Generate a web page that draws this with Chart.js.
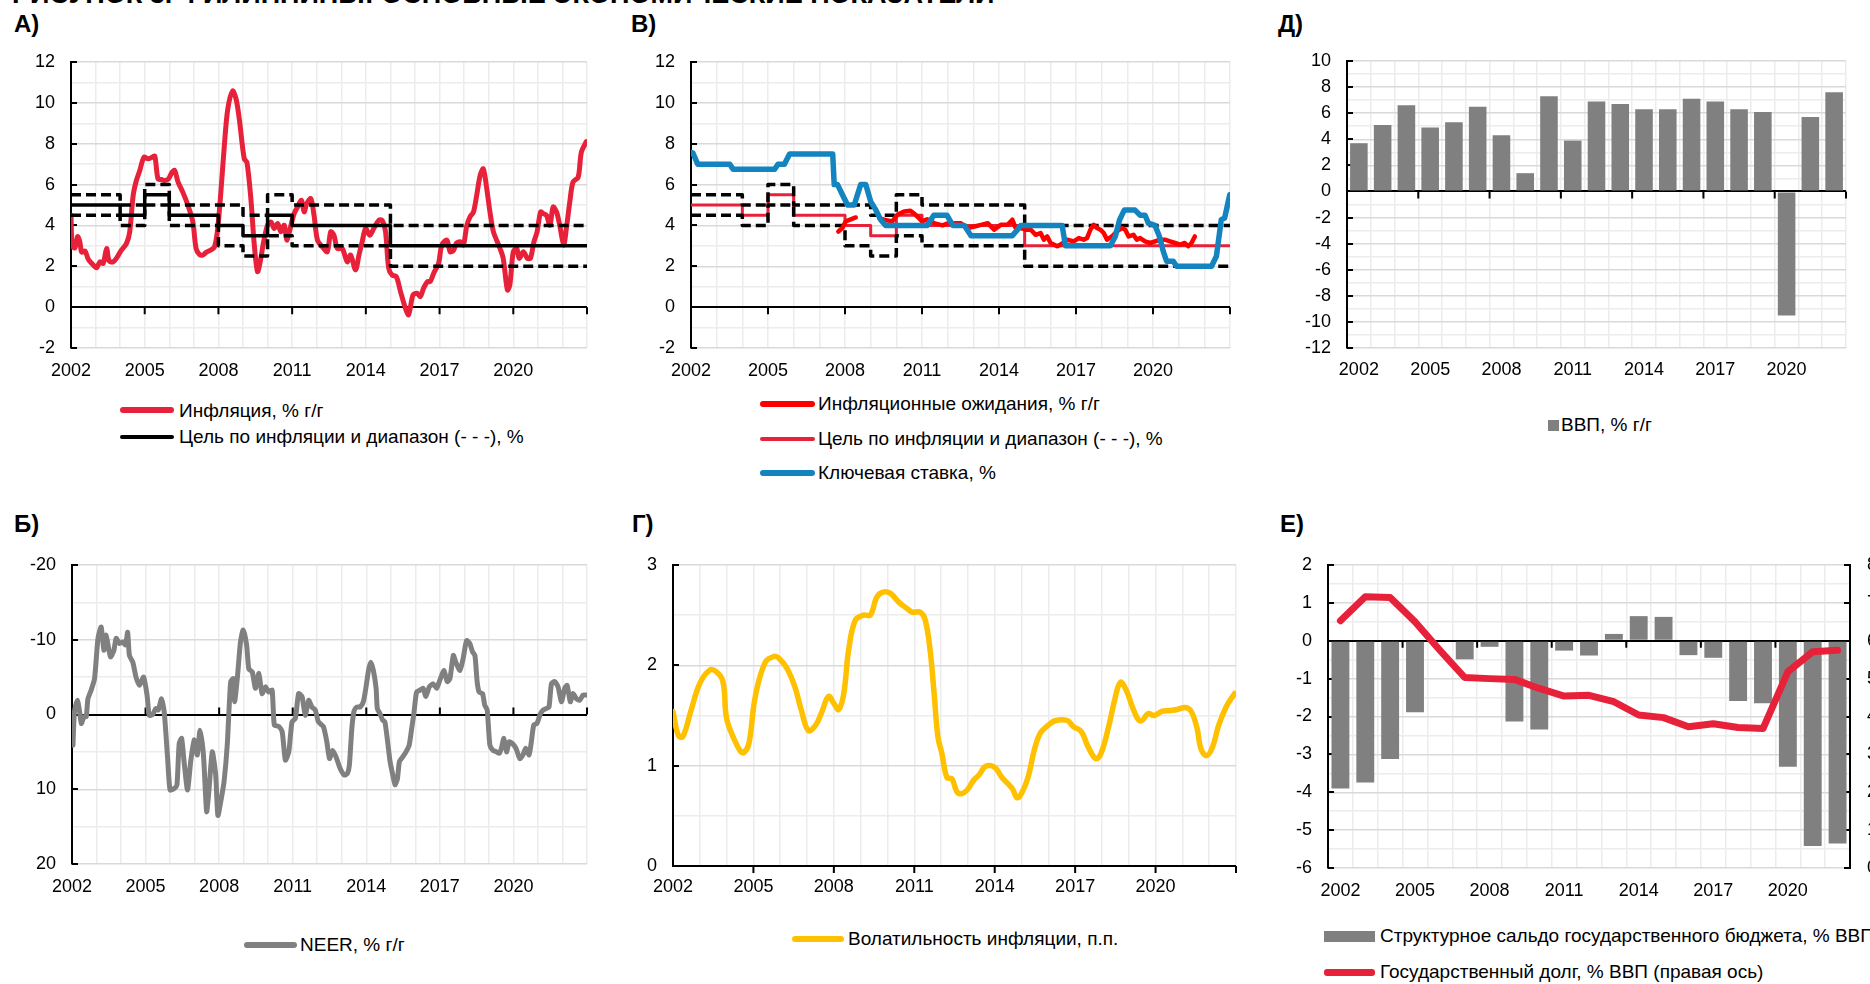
<!DOCTYPE html>
<html lang="ru">
<head>
<meta charset="utf-8">
<title>Филиппины: основные экономические показатели</title>
<script src="https://cdn.jsdelivr.net/npm/chart.js@4.4.1/dist/chart.umd.min.js"></script>
<style>
  html, body { margin: 0; padding: 0; background: #fff; }
  body { position: relative; width: 1870px; height: 984px; overflow: hidden;
         font-family: "Liberation Sans", Arial, sans-serif; color: #000; }
  .hdr { position: absolute; left: 12px; top: -19px; font-size: 27px; line-height: 27px;
         font-weight: bold; white-space: nowrap; }
  .ttl { position: absolute; font-size: 24px; line-height: 24px; font-weight: bold; }
  .sw  { position: absolute; border-radius: 3px; }
  .lt  { position: absolute; font-size: 19px; line-height: 20px; white-space: nowrap; }
</style>
</head>
<body>

<div class="hdr">РИСУНОК 3. ФИЛИППИНЫ: ОСНОВНЫЕ ЭКОНОМИЧЕСКИЕ ПОКАЗАТЕЛИ</div>

<div class="ttl" style="left:14px;top:12px">А)</div>
<div class="ttl" style="left:631px;top:12px">В)</div>
<div class="ttl" style="left:1278px;top:12px">Д)</div>
<div class="ttl" style="left:14px;top:512px">Б)</div>
<div class="ttl" style="left:632px;top:512px">Г)</div>
<div class="ttl" style="left:1280px;top:512px">Е)</div>

<!-- легенды -->
<div class="sw" style="left:120px;top:407px;width:54px;height:6px;background:#e8213a"></div>
<div class="lt" style="left:179px;top:401px">Инфляция, % г/г</div>
<div class="sw" style="left:120px;top:435px;width:54px;height:4px;background:#000"></div>
<div class="lt" style="left:179px;top:427px">Цель по инфляции и диапазон (- - -), %</div>

<div class="sw" style="left:760px;top:401px;width:55px;height:6px;background:#ff0000"></div>
<div class="lt" style="left:818px;top:394px">Инфляционные ожидания, % г/г</div>
<div class="sw" style="left:760px;top:437px;width:55px;height:4px;background:#e8213a"></div>
<div class="lt" style="left:818px;top:429px">Цель по инфляции и диапазон (- - -), %</div>
<div class="sw" style="left:760px;top:470px;width:55px;height:6px;background:#1384c0"></div>
<div class="lt" style="left:818px;top:463px">Ключевая ставка, %</div>

<div class="sw" style="left:1548px;top:420px;width:11px;height:11px;background:#808080;border-radius:0"></div>
<div class="lt" style="left:1561px;top:415px">ВВП, % г/г</div>

<div class="sw" style="left:244px;top:942px;width:53px;height:6px;background:#808080"></div>
<div class="lt" style="left:300px;top:935px">NEER, % г/г</div>

<div class="sw" style="left:792px;top:936px;width:52px;height:6px;background:#ffc000"></div>
<div class="lt" style="left:848px;top:929px">Волатильность инфляции, п.п.</div>

<div class="sw" style="left:1324px;top:931px;width:51px;height:11px;background:#808080;border-radius:0"></div>
<div class="lt" style="left:1380px;top:926px">Структурное сальдо государственного бюджета, % ВВП</div>
<div class="sw" style="left:1324px;top:969px;width:51px;height:7px;background:#e8213a"></div>
<div class="lt" style="left:1380px;top:962px">Государственный долг, % ВВП (правая ось)</div>

<script>
// ---------- данные ----------

// А) инфляция, % г/г (помесячно, снято с графика)
const inflYears = [
  2002.0, 2002.05, 2002.16, 2002.27, 2002.36, 2002.43, 2002.57, 2002.7, 2002.84, 2003.04,
  2003.18, 2003.31, 2003.45, 2003.55, 2003.72, 2003.89, 2004.05, 2004.26, 2004.39, 2004.53,
  2004.66, 2004.8, 2004.97, 2005.14, 2005.3, 2005.41, 2005.54, 2005.68, 2005.81, 2005.97,
  2006.11, 2006.22, 2006.35, 2006.55, 2006.76, 2006.96, 2007.09, 2007.23, 2007.36, 2007.5,
  2007.68, 2007.84, 2007.97, 2008.11, 2008.24, 2008.38, 2008.58, 2008.72, 2008.85, 2009.05,
  2009.16, 2009.32, 2009.46, 2009.59, 2009.7, 2009.84, 2010.0, 2010.14, 2010.27, 2010.41,
  2010.54, 2010.68, 2010.78, 2010.92, 2011.08, 2011.22, 2011.38, 2011.49, 2011.59, 2011.76,
  2011.89, 2012.03, 2012.23, 2012.43, 2012.57, 2012.7, 2012.84, 2013.04, 2013.24, 2013.38,
  2013.58, 2013.72, 2013.85, 2013.99, 2014.16, 2014.32, 2014.53, 2014.66, 2014.8, 2014.93,
  2015.07, 2015.24, 2015.41, 2015.61, 2015.74, 2015.92, 2016.08, 2016.22, 2016.35, 2016.51,
  2016.62, 2016.76, 2016.96, 2017.09, 2017.3, 2017.43, 2017.57, 2017.68, 2017.84, 2017.97,
  2018.11, 2018.24, 2018.38, 2018.51, 2018.65, 2018.78, 2018.92, 2019.05, 2019.19, 2019.32,
  2019.46, 2019.59, 2019.76, 2019.86, 2020.0, 2020.14, 2020.24, 2020.41, 2020.57, 2020.7,
  2020.84, 2020.97, 2021.11, 2021.22, 2021.35, 2021.49, 2021.62, 2021.76, 2021.89, 2022.05,
  2022.16, 2022.3, 2022.43, 2022.64, 2022.77, 2022.97
];
const inflValues = [
  4.5, 3.0, 2.9, 3.45, 3.2, 2.7, 2.75, 2.35, 2.15, 1.93,
  2.22, 2.14, 2.87, 2.26, 2.22, 2.47, 2.79, 3.12, 3.68, 5.47,
  6.2, 6.69, 7.34, 7.26, 7.34, 7.39, 6.28, 6.25, 6.2, 6.28,
  6.6, 6.69, 6.15, 5.63, 4.98, 4.17, 2.87, 2.58, 2.55, 2.68,
  2.79, 2.95, 3.85, 5.8, 7.9, 9.69, 10.58, 10.18, 9.2, 7.26,
  7.09, 5.31, 3.04, 1.74, 2.22, 3.2, 4.01, 4.17, 3.85, 4.09,
  3.69, 4.01, 3.28, 3.85, 4.58, 4.9, 5.23, 4.66, 5.06, 5.31,
  4.5, 3.28, 2.95, 2.71, 3.69, 3.52, 2.87, 2.87, 2.22, 2.55,
  1.82, 2.55, 3.2, 3.85, 3.52, 3.85, 4.25, 4.25, 3.69, 1.9,
  1.57, 1.49, 0.76, -0.05, -0.37, 0.6, 0.68, 0.52, 0.93, 1.25,
  1.25, 1.66, 2.14, 3.04, 3.28, 2.71, 2.79, 3.12, 3.2, 3.04,
  4.01, 4.42, 4.66, 5.47, 6.44, 6.77, 5.8, 4.66, 3.69, 3.28,
  2.87, 2.39, 0.84, 1.09, 2.71, 2.87, 2.39, 2.71, 2.39, 2.39,
  3.2, 3.69, 4.66, 4.58, 4.5, 4.01, 4.9, 4.66, 4.01, 3.04,
  3.85, 5.15, 6.12, 6.36, 7.58, 8.1
];

// цель по инфляции и диапазон (ступеньки, значение действует до следующей даты)
const targetYears  = [2002, 2004, 2005, 2006, 2008, 2009, 2010, 2011, 2015, 2023];
const targetValues = [5, 4.5, 5.5, 4.5, 4, 3.5, 4.5, 4, 3, 3];
const bandUpper    = [5.5, 5, 6, 5, 5, 4.5, 5.5, 5, 4, 4];
const bandLower    = [4.5, 4, 5, 4, 3, 2.5, 3.5, 3, 2, 2];

// В) ключевая ставка, %
const rateYears = [
  2002.0, 2002.08, 2002.26, 2003.51, 2003.64, 2005.26, 2005.39, 2005.64, 2005.84, 2007.52,
  2007.58, 2007.71, 2007.9, 2008.1, 2008.36, 2008.61, 2008.81, 2009.0, 2009.2, 2009.39,
  2009.58, 2011.2, 2011.46, 2011.97, 2012.2, 2012.65, 2012.91, 2014.52, 2014.72, 2014.85,
  2016.46, 2016.59, 2018.34, 2018.53, 2018.7, 2018.88, 2019.3, 2019.5, 2019.69, 2019.82,
  2020.08, 2020.25, 2020.4, 2020.53, 2020.79, 2020.92, 2022.28, 2022.47, 2022.66, 2022.79,
  2022.99
];
const rateValues = [
  7.58, 7.53, 7.0, 7.0, 6.75, 6.75, 7.0, 7.0, 7.5, 7.5,
  6.0, 6.0, 5.5, 5.0, 5.0, 6.0, 6.0, 5.17, 4.76, 4.28,
  4.0, 4.0, 4.5, 4.5, 4.0, 4.0, 3.5, 3.5, 3.79, 4.0,
  4.0, 3.0, 3.0, 3.46, 4.28, 4.75, 4.75, 4.5, 4.5, 4.11,
  4.0, 3.46, 2.73, 2.25, 2.25, 2.0, 2.0, 2.49, 4.28, 4.36,
  5.5
];

// В) инфляционные ожидания, % г/г (null = разрыв ряда)
const expYears = [
  2007.74, 2007.9, 2008.03, 2008.2, 2008.42, 2008.8, 2009.33, 2009.52, 2009.84, 2010.04,
  2010.3, 2010.55, 2010.75, 2010.88, 2011.0, 2011.2, 2011.5, 2011.8, 2012.0, 2012.26,
  2012.5, 2012.78, 2013.04, 2013.3, 2013.56, 2013.81, 2014.07, 2014.33, 2014.52, 2014.65,
  2014.85, 2015.04, 2015.24, 2015.43, 2015.62, 2015.75, 2015.88, 2016.01, 2016.27, 2016.4,
  2016.66, 2016.91, 2017.11, 2017.3, 2017.43, 2017.56, 2017.69, 2017.82, 2017.95, 2018.08,
  2018.21, 2018.4, 2018.59, 2018.79, 2018.92, 2019.05, 2019.24, 2019.37, 2019.5, 2019.69,
  2019.89, 2020.08, 2020.27, 2020.47, 2020.66, 2020.86, 2021.05, 2021.24, 2021.37, 2021.5,
  2021.63
];
const expValues = [
  3.7, 3.87, 4.2, 4.28, 4.39, null, 4.36, 4.28, 4.2, 4.52,
  4.68, 4.72, 4.52, 4.36, 4.2, 4.3, 4.1, 4.0, 4.1, 4.11,
  4.11, 3.87, 3.95, 4.03, 4.11, 3.79, 4.03, 4.03, 4.28, 3.87,
  3.87, 3.79, 3.79, 3.54, 3.63, 3.3, 3.46, 3.14, 2.98, 3.06,
  3.3, 3.22, 3.38, 3.3, 3.38, 3.79, 4.03, 3.87, 3.79, 3.63,
  3.3, 3.46, 3.71, 3.87, 3.79, 3.46, 3.54, 3.3, 3.38, 3.22,
  3.14, 3.22, 3.3, 3.3, 3.22, 3.14, 3.06, 3.14, 2.98, 3.14,
  3.46
];

// Б) NEER, % г/г (ось перевёрнута)
const neerYears = [
  2002.04, 2002.1, 2002.22, 2002.31, 2002.38, 2002.49, 2002.58, 2002.65, 2002.78, 2002.92,
  2003.06, 2003.19, 2003.3, 2003.39, 2003.57, 2003.71, 2003.8, 2003.94, 2004.07, 2004.18,
  2004.27, 2004.34, 2004.48, 2004.61, 2004.75, 2004.92, 2005.06, 2005.15, 2005.29, 2005.42,
  2005.52, 2005.65, 2005.76, 2005.9, 2006.0, 2006.17, 2006.28, 2006.37, 2006.47, 2006.57,
  2006.71, 2006.84, 2006.98, 2007.11, 2007.22, 2007.36, 2007.49, 2007.59, 2007.72, 2007.86,
  2007.95, 2008.09, 2008.2, 2008.33, 2008.47, 2008.58, 2008.63, 2008.74, 2008.87, 2008.98,
  2009.12, 2009.21, 2009.35, 2009.48, 2009.62, 2009.75, 2009.89, 2010.02, 2010.16, 2010.25,
  2010.43, 2010.57, 2010.7, 2010.84, 2010.97, 2011.11, 2011.24, 2011.38, 2011.51, 2011.65,
  2011.78, 2011.92, 2012.05, 2012.25, 2012.39, 2012.5, 2012.63, 2012.77, 2012.93, 2013.1,
  2013.23, 2013.31, 2013.41, 2013.5, 2013.61, 2013.75, 2013.88, 2013.99, 2014.09, 2014.18,
  2014.29, 2014.4, 2014.45, 2014.56, 2014.67, 2014.76, 2014.87, 2014.97, 2015.08, 2015.17,
  2015.27, 2015.35, 2015.48, 2015.62, 2015.75, 2015.85, 2015.94, 2016.05, 2016.19, 2016.32,
  2016.43, 2016.57, 2016.73, 2016.87, 2017.0, 2017.17, 2017.3, 2017.41, 2017.55, 2017.65,
  2017.82, 2017.95, 2018.09, 2018.22, 2018.33, 2018.43, 2018.52, 2018.6, 2018.74, 2018.83,
  2018.93, 2019.04, 2019.17, 2019.31, 2019.42, 2019.51, 2019.61, 2019.72, 2019.83, 2019.96,
  2020.1, 2020.26, 2020.39, 2020.5, 2020.64, 2020.73, 2020.83, 2020.96, 2021.1, 2021.21,
  2021.34, 2021.45, 2021.55, 2021.68, 2021.82, 2021.96, 2022.09, 2022.19, 2022.32, 2022.43,
  2022.57, 2022.7, 2022.84, 2022.97
];
const neerValues = [
  4.1, -0.36, -1.9, -0.36, 1.2, 0.3, 0.3, -2.1, -3.25, -4.8,
  -10.2, -11.7, -8.6, -10.6, -7.7, -8.6, -10.2, -9.5, -9.7, -9.3,
  -11.0, -7.9, -7.0, -5.0, -3.9, -5.0, -2.6, 0.1, 0, -0.8,
  -0.6, -2.1, -0.36, 5.9, 10.1, 9.9, 9.4, 3.9, 3.2, 6.3,
  10.1, 6.3, 3.4, 5.4, 2.1, 5.4, 13.0, 9.9, 5.0, 8.1,
  13.5, 11.2, 9.0, 4.1, -4.4, -4.8, -1.7, -4.8, -9.7, -11.3,
  -9.3, -6.1, -5.7, -3.5, -5.5, -2.8, -3.7, -3.0, -3.25, 1.4,
  1.6, 2.3, 6.1, 5.0, 1.0, 0.5, -2.8, -2.4, 0.1, -1.9,
  -1.0, -0.6, 1.0, 1.6, 3.65, 5.9, 4.8, 5.7, 7.2, 8.1,
  7.9, 6.8, 1.9, -0.45, -1.0, -1.0, -1.7, -3.7, -5.9, -7.0,
  -5.9, -3.5, -0.8, -0.1, 0.76, 1.0, 3.65, 6.3, 8.1, 9.4,
  8.6, 6.3, 5.7, 5.0, 4.1, 1.9, -0.1, -3.0, -3.25, -3.5,
  -2.4, -3.7, -4.1, -3.5, -4.6, -5.9, -4.4, -4.8, -7.9, -7.0,
  -5.9, -7.5, -9.9, -9.5, -8.4, -7.9, -4.4, -3.0, -2.8, -1.25,
  -0.6, 4.1, 4.8, 5.0, 5.2, 4.5, 3.2, 5.0, 3.65, 3.9,
  4.5, 5.9, 5.4, 4.5, 5.4, 3.65, 1.4, 1.2, -0.1, -0.6,
  -0.8, -1.0, -4.1, -4.4, -3.7, -1.7, -3.5, -3.9, -1.7, -2.8,
  -2.1, -1.9, -2.6, -2.6
];

// Г) волатильность инфляции, п.п.
const volYears = [
  2002.0, 2002.2, 2002.37, 2002.66, 2003.0, 2003.36, 2003.6, 2003.86, 2004.0, 2004.27,
  2004.5, 2004.64, 2004.83, 2005.07, 2005.44, 2005.78, 2005.95, 2006.25, 2006.54, 2006.79,
  2007.05, 2007.31, 2007.53, 2007.8, 2008.0, 2008.18, 2008.37, 2008.55, 2008.8, 2009.1,
  2009.36, 2009.6, 2009.83, 2010.1, 2010.42, 2010.71, 2010.93, 2011.22, 2011.41, 2011.59,
  2011.74, 2011.88, 2012.03, 2012.22, 2012.4, 2012.59, 2012.76, 2012.98, 2013.2, 2013.42,
  2013.64, 2013.86, 2014.05, 2014.25, 2014.49, 2014.66, 2014.84, 2015.03, 2015.25, 2015.47,
  2015.69, 2015.98, 2016.28, 2016.71, 2016.93, 2017.23, 2017.48, 2017.77, 2017.96, 2018.25,
  2018.47, 2018.69, 2018.91, 2019.13, 2019.35, 2019.5, 2019.72, 2019.94, 2020.23, 2020.52,
  2020.81, 2021.11, 2021.33, 2021.55, 2021.69, 2021.91, 2022.13, 2022.35, 2022.64, 2022.95
];
const volValues = [
  1.54, 1.30, 1.29, 1.54, 1.82, 1.95, 1.94, 1.84, 1.47, 1.27,
  1.15, 1.13, 1.22, 1.69, 2.03, 2.09, 2.07, 1.97, 1.79, 1.55,
  1.35, 1.40, 1.52, 1.69, 1.62, 1.56, 1.72, 2.15, 2.45, 2.50,
  2.50, 2.68, 2.73, 2.72, 2.63, 2.57, 2.53, 2.53, 2.45, 2.15,
  1.72, 1.29, 1.12, 0.88, 0.87, 0.74, 0.72, 0.76, 0.85, 0.91,
  0.99, 1.00, 0.97, 0.89, 0.82, 0.77, 0.68, 0.74, 0.89, 1.15,
  1.32, 1.40, 1.45, 1.45, 1.39, 1.34, 1.19, 1.07, 1.12, 1.39,
  1.65, 1.83, 1.75, 1.59, 1.46, 1.45, 1.52, 1.50, 1.54, 1.55,
  1.56, 1.58, 1.54, 1.37, 1.17, 1.10, 1.19, 1.40, 1.59, 1.72
];

// Д) и Е) годовые ряды
const annualYears = ['2002', '2003', '2004', '2005', '2006', '2007', '2008', '2009', '2010', '2011',
  '2012', '2013', '2014', '2015', '2016', '2017', '2018', '2019', '2020', '2021', '2022'];
const gdpValues = [3.7, 5.1, 6.6, 4.9, 5.3, 6.5, 4.3, 1.4, 7.3, 3.9,
  6.9, 6.7, 6.3, 6.3, 7.1, 6.9, 6.3, 6.1, -9.5, 5.7, 7.6];
const balanceValues = [-3.9, -3.74, -3.12, -1.89, 0, -0.49, -0.16, -2.13, -2.34, -0.26,
  -0.39, 0.18, 0.65, 0.63, -0.38, -0.45, -1.59, -1.65, -3.33, -5.42, -5.35];
const debtValues = [65.3, 71.6, 71.4, 65.0, 57.5, 50.3, 50.0, 49.8, 47.4, 45.4,
  45.6, 43.9, 40.4, 39.7, 37.3, 38.1, 37.1, 36.8, 51.8, 57.1, 57.5];

// засечки оси лет
const markYears = [2005, 2008, 2011, 2014, 2017, 2020, 2023];
const markCats = [3, 6, 9, 12, 15, 18, 21];

// ---------- общие настройки ----------
Chart.defaults.font.family = '"Liberation Sans", Arial, sans-serif';
Chart.defaults.font.size = 18;
Chart.defaults.color = '#000';
Chart.defaults.animation = false;
Chart.defaults.responsive = false;
Chart.defaults.maintainAspectRatio = false;
Chart.defaults.devicePixelRatio = 1;
Chart.defaults.plugins.legend.display = false;
Chart.defaults.plugins.tooltip.enabled = false;
Chart.defaults.elements.point.radius = 0;

// засечки как в Excel: внутрь у вертикальных осей и на нулевой линии
const axisMarks = {
  id: 'axisMarks',
  beforeDatasetsDraw(chart, args, o) {
    const { ctx, chartArea: a, scales } = chart;
    const x = scales.x, y = scales.y;
    ctx.save();
    ctx.strokeStyle = '#000';
    ctx.lineWidth = 2;
    ctx.beginPath();
    y.ticks.forEach(t => {
      if (!t.label) return;
      const py = Math.round(y.getPixelForValue(t.value));
      ctx.moveTo(a.left, py); ctx.lineTo(a.left + 6, py);
    });
    if (scales.y2) {
      scales.y2.ticks.forEach(t => {
        const py = Math.round(scales.y2.getPixelForValue(t.value));
        ctx.moveTo(a.right, py); ctx.lineTo(a.right - 6, py);
      });
    }
    const base = y.getPixelForValue(o.base || 0);
    const dir = o.dir || 1;
    (o.marks || []).forEach(v => {
      let px;
      if (o.cat) px = (x.getPixelForValue(v) + x.getPixelForValue(v - 1)) / 2;
      else px = x.getPixelForValue(v);
      ctx.moveTo(px, base); ctx.lineTo(px, base + 7 * dir);
    });
    ctx.stroke();
    ctx.restore();
  }
};
Chart.register(axisMarks);

const PAD_TOP = 15, YW = 70, XH = 40;

function makeCanvas(box, rw) {
  const c = document.createElement('canvas');
  c.width = box.r - box.l + YW + rw;
  c.height = box.b - box.t + PAD_TOP + XH;
  c.style.position = 'absolute';
  c.style.left = (box.l - YW) + 'px';
  c.style.top = (box.t - PAD_TOP) + 'px';
  document.body.appendChild(c);
  return c;
}

const pts = (xs, ys) => xs.map((x, i) => ({ x: x, y: ys[i] }));
const onStep = (v, s) => Math.abs(v / s - Math.round(v / s)) < 1e-6;

// фиксированная ширина вертикальной оси, без добавочного отступа под крайние подписи
function fixWidth(w) {
  return s => { s.width = w; s.paddingTop = 0; s.paddingBottom = 0; };
}

function yearAxis(pad) {
  return {
    type: 'linear', min: 2002, max: 2023,
    afterFit: s => { s.height = XH; },
    border: { display: false },
    grid: { color: '#ececec', lineWidth: 1.5, drawTicks: false },
    ticks: {
      stepSize: 1, autoSkip: false, maxRotation: 0, minRotation: 0, padding: pad,
      callback: v => (v - 2002) % 3 === 0 && v < 2023 ? String(v) : ''
    }
  };
}

function catAxis(labels, pad) {
  return {
    type: 'category', offset: true,
    afterFit: s => { s.height = XH; },
    border: { display: false },
    grid: { offset: true, color: '#ececec', lineWidth: 1.5, drawTicks: false },
    ticks: {
      autoSkip: false, maxRotation: 0, minRotation: 0, padding: pad,
      callback: (v, i) => i % 3 === 0 ? labels[i] : ''
    }
  };
}

function valueAxis(min, max, step, every, extra) {
  return Object.assign({
    min: min, max: max,
    afterFit: fixWidth(YW),
    border: { display: true, color: '#000', width: 2 },
    grid: {
      drawTicks: false,
      color: c => c.tick.value === 0 ? '#000' : (onStep(c.tick.value, every) ? '#d9d9d9' : '#ececec'),
      lineWidth: c => c.tick.value === 0 ? 2 : 1.5
    },
    ticks: {
      stepSize: step, autoSkip: false, padding: 16,
      callback: v => onStep(v, every) ? String(v) : ''
    }
  }, extra || {});
}

function lineSet(data, color, width, extra) {
  return Object.assign({
    data: data, borderColor: color, borderWidth: width, fill: false,
    pointRadius: 0, borderJoinStyle: 'round', borderCapStyle: 'round'
  }, extra || {});
}

const padding = { top: PAD_TOP, right: 10, left: 0, bottom: 0 };

// ---------- А) инфляция и цель ----------
new Chart(makeCanvas({ l: 71, t: 62, r: 589, b: 348 }, 10), {
  type: 'line',
  data: {
    datasets: [
      lineSet(pts(targetYears, bandUpper), '#000', 3.5, { stepped: true, borderDash: [10, 5], borderCapStyle: 'butt' }),
      lineSet(pts(targetYears, bandLower), '#000', 3.5, { stepped: true, borderDash: [10, 5], borderCapStyle: 'butt' }),
      lineSet(pts(targetYears, targetValues), '#000', 3.5, { stepped: true }),
      lineSet(pts(inflYears, inflValues), '#e8213a', 5, { tension: 0.3 })
    ]
  },
  options: {
    layout: { padding: padding },
    scales: { x: yearAxis(12), y: valueAxis(-2, 12, 1, 2) },
    plugins: { axisMarks: { base: 0, marks: markYears } }
  }
});

// ---------- В) ожидания, цель, ставка ----------
new Chart(makeCanvas({ l: 691, t: 62, r: 1232, b: 348 }, 10), {
  type: 'line',
  data: {
    datasets: [
      lineSet(pts(rateYears, rateValues), '#1384c0', 5.5),
      lineSet(pts(expYears, expValues), '#ff0000', 4.5, { spanGaps: false }),
      lineSet(pts(targetYears, bandUpper), '#000', 3.5, { stepped: true, borderDash: [10, 5], borderCapStyle: 'butt' }),
      lineSet(pts(targetYears, bandLower), '#000', 3.5, { stepped: true, borderDash: [10, 5], borderCapStyle: 'butt' }),
      lineSet(pts(targetYears, targetValues), '#e8213a', 3, { stepped: true })
    ]
  },
  options: {
    layout: { padding: padding },
    scales: { x: yearAxis(12), y: valueAxis(-2, 12, 1, 2) },
    plugins: { axisMarks: { base: 0, marks: markYears } }
  }
});

// ---------- Д) ВВП ----------
new Chart(makeCanvas({ l: 1347, t: 61, r: 1846, b: 348 }, 10), {
  type: 'bar',
  data: {
    labels: annualYears,
    datasets: [{ data: gdpValues, backgroundColor: '#808080', barPercentage: 0.74, categoryPercentage: 1 }]
  },
  options: {
    layout: { padding: padding },
    scales: { x: catAxis(annualYears, 11), y: valueAxis(-12, 10, 1, 2) },
    plugins: { axisMarks: { base: 0, marks: markCats, cat: true } }
  }
});

// ---------- Б) NEER ----------
new Chart(makeCanvas({ l: 72, t: 565, r: 589, b: 864 }, 10), {
  type: 'line',
  data: { datasets: [lineSet(pts(neerYears, neerValues), '#808080', 5, { tension: 0.2 })] },
  options: {
    layout: { padding: padding },
    scales: { x: yearAxis(12), y: valueAxis(-20, 20, 5, 10, { reverse: true }) },
    plugins: { axisMarks: { base: 0, marks: markYears, dir: -1 } }
  }
});

// ---------- Г) волатильность инфляции ----------
new Chart(makeCanvas({ l: 673, t: 565, r: 1236, b: 866 }, 10), {
  type: 'line',
  data: { datasets: [lineSet(pts(volYears, volValues), '#ffc000', 5.5, { tension: 0.4 })] },
  options: {
    layout: { padding: padding },
    scales: { x: yearAxis(10), y: valueAxis(0, 3, 0.5, 1) },
    plugins: { axisMarks: { base: 0, marks: markYears } }
  }
});

// ---------- Е) сальдо бюджета и госдолг ----------
new Chart(makeCanvas({ l: 1328, t: 565, r: 1850, b: 868 }, 60), {
  type: 'bar',
  data: {
    labels: annualYears,
    datasets: [
      {
        type: 'line', data: debtValues, yAxisID: 'y2', order: 0,
        borderColor: '#e8213a', borderWidth: 7, pointRadius: 0,
        borderJoinStyle: 'round', borderCapStyle: 'round', fill: false
      },
      {
        type: 'bar', data: balanceValues, yAxisID: 'y', order: 1,
        backgroundColor: '#808080', barPercentage: 0.72, categoryPercentage: 1
      }
    ]
  },
  options: {
    layout: { padding: { top: PAD_TOP, right: 0, left: 0, bottom: 0 } },
    scales: {
      x: catAxis(annualYears, 12),
      y: valueAxis(-6, 2, 0.5, 1),
      y2: {
        position: 'right', min: 0, max: 80,
        afterFit: fixWidth(60),
        border: { display: true, color: '#000', width: 2 },
        grid: { display: false, drawTicks: false },
        ticks: { stepSize: 10, padding: 17, callback: v => String(v) }
      }
    },
    plugins: { axisMarks: { base: 0, marks: markCats, cat: true } }
  }
});
</script>
</body>
</html>
